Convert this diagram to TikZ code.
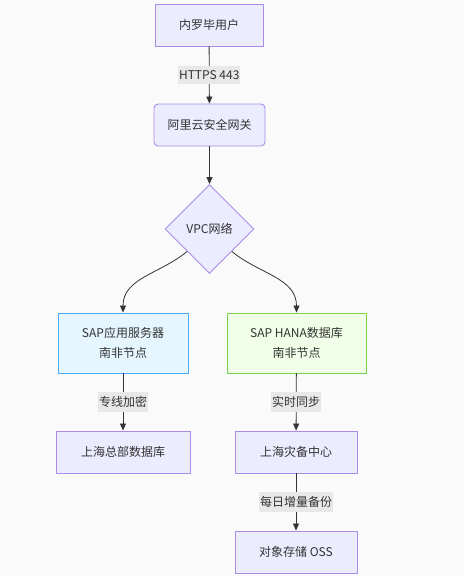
\documentclass[tikz,border=0pt]{standalone}
\usepackage{fontspec}
\setmainfont{Noto Sans CJK SC}
\usetikzlibrary{shapes.geometric,arrows.meta}
\definecolor{bgwhite}{RGB}{250, 250, 250}
\definecolor{mmfill}{RGB}{236, 236, 255}
\definecolor{mmline}{RGB}{170, 140, 230}
\definecolor{appfill}{RGB}{230, 246, 255}
\definecolor{appline}{RGB}{77, 171, 255}
\definecolor{dbfill}{RGB}{242, 255, 232}
\definecolor{dbline}{RGB}{120, 210, 80}
\definecolor{edgegray}{RGB}{51, 51, 51}
\definecolor{lblgray}{RGB}{232, 232, 232}

\tikzset{
  box/.style={draw=mmline, fill=mmfill, line width=0.9pt, inner sep=0pt, align=center,
    font=\fontsize{12}{20}\selectfont, text=edgegray},
  flow/.style={draw=edgegray, line width=0.8pt, -{Triangle[length=7pt,width=6pt]}},
  lbl/.style={fill=lblgray, inner xsep=1pt, inner ysep=4pt, font=\fontsize{12}{14}\selectfont, text=edgegray}
}

\begin{document}
\begin{tikzpicture}[x=1pt,y=-1pt]
\fill[bgwhite] (0,0) rectangle (464,576);
\useasboundingbox (0,0) rectangle (464,576);

% Top chain
\node[box, minimum width=108pt, minimum height=42pt] (user) at (209,25) {内罗毕用户};
\node[box, rounded corners=4pt, minimum width=111pt, minimum height=42pt] (gw) at (209.5,125) {阿里云安全网关};
\node[box, diamond, minimum size=89pt] (vpc) at (209.5,229) {VPC网络};

% SAP nodes
\node[box, draw=appline, fill=appfill, minimum width=130pt, minimum height=60pt] (app) at (123,343) {SAP应用服务器\\南非节点};
\node[box, draw=dbline, fill=dbfill, minimum width=139pt, minimum height=60pt] (hana) at (296.5,343) {SAP HANA数据库\\南非节点};

% Targets
\node[box, minimum width=134pt, minimum height=42pt] (hqdb) at (123,452) {上海总部数据库};
\node[box, minimum width=122pt, minimum height=42pt] (dr) at (296,452) {上海灾备中心};
\node[box, minimum width=122pt, minimum height=42pt] (oss) at (296,552) {对象存储 OSS};

% Connectors
\draw[flow] (user) -- node[lbl] {HTTPS 443} (gw);
\draw[flow] (gw) -- (vpc);
\draw[flow] (vpc.south west) to[out=-140,in=90] (app.north);
\draw[flow] (vpc.south east) to[out=-40,in=90] (hana.north);
\draw[flow] (app) -- node[lbl] {专线加密} (hqdb);
\draw[flow] (hana) -- node[lbl] {实时同步} (dr);
\draw[flow] (dr) -- node[lbl] {每日增量备份} (oss);
\end{tikzpicture}
\end{document}
